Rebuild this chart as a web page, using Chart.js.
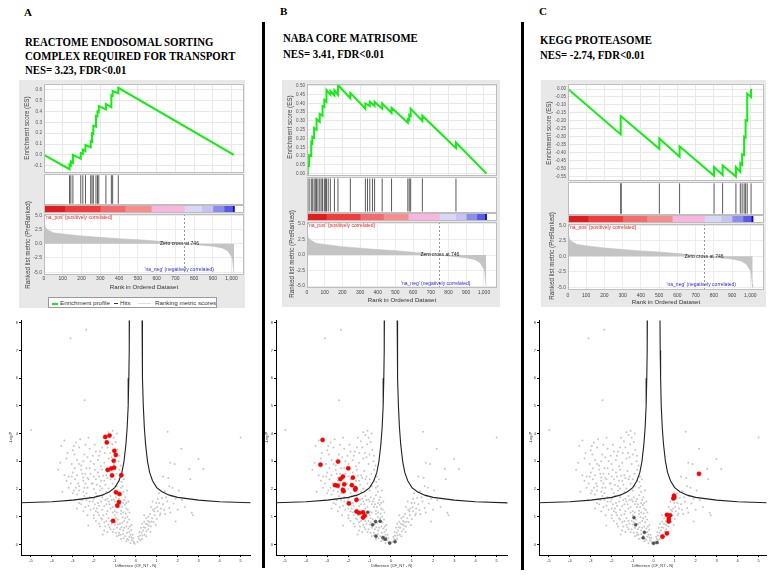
<!DOCTYPE html>
<html>
<head>
<meta charset="utf-8">
<script src="https://cdn.jsdelivr.net/npm/chart.js@4.4.1/dist/chart.umd.min.js"></script>
<style>
body { margin:0; width:778px; height:580px; position:relative; overflow:hidden; background:#fff; font-family:"Liberation Serif", serif; }
canvas { position:absolute; }
.letter { position:absolute; font-weight:bold; font-size:11px; line-height:11px; }
.ttl { position:absolute; font-weight:bold; font-size:13.5px; white-space:nowrap; transform:scaleX(0.8); transform-origin:0 0; }
.box { position:absolute; background:#e8e8e8; }
.sep { position:absolute; background:#000; width:3px; }
.ytl { position:absolute; font:6.3px "Liberation Sans"; color:#444; white-space:nowrap; transform:translate(-50%,-50%) rotate(-90deg); }
.leg { position:absolute; left:48px; top:297px; width:167px; height:9px; background:#fff; border:1px solid #999; font:6.2px "Liberation Sans"; color:#333; }
.leg span { position:absolute; top:1px; white-space:nowrap; }
.leg i { position:absolute; top:5px; height:1px; }
</style>
</head>
<body>
<div class="box" style="left:19px;top:80px;width:226px;height:228px"></div>
<div class="box" style="left:282px;top:80px;width:218px;height:227px"></div>
<div class="box" style="left:541px;top:80px;width:225px;height:227px"></div>

<div class="sep" style="left:262px;top:22px;height:546px"></div>
<div class="sep" style="left:521px;top:22px;height:548px"></div>

<div class="letter" style="left:24px;top:7px">A</div>
<div class="letter" style="left:280px;top:6px">B</div>
<div class="letter" style="left:539px;top:6px">C</div>

<div class="ttl" style="left:25px;top:34.5px;line-height:14.4px">REACTOME ENDOSOMAL SORTING<br>COMPLEX REQUIRED FOR TRANSPORT<br>NES= 3.23, FDR&lt;0.01</div>
<div class="ttl" style="left:283px;top:29.7px;line-height:16px">NABA CORE MATRISOME<br>NES= 3.41, FDR&lt;0.01</div>
<div class="ttl" style="left:540px;top:31.9px;line-height:15px">KEGG PROTEASOME<br>NES= -2.74, FDR&lt;0.01</div>

<div class="leg">
  <i style="left:3px;width:6px;background:#12ee12;height:1.5px"></i><span style="left:11px">Enrichment profile</span>
  <i style="left:65px;width:4px;background:#333"></i><span style="left:71px">Hits</span>
  <i style="left:89px;width:13px;background:#ddd"></i><span style="left:106px">Ranking metric scores</span>
</div>

<script>
// ranked list metric, shared by the three GSEA plots
const rankX = [0, 5, 20, 50, 100, 200, 300, 400, 500, 600, 700, 746, 800, 900, 950, 980, 1000, 1005, 1010, 1013];
const rankY = [3.3, 2.9, 2.4, 1.9, 1.7, 1.35, 1.1, 0.87, 0.7, 0.45, 0.18, 0, -0.17, -0.45, -0.75, -1.3, -2.3, -2.8, -4.5, -5.0];

// colour bar under the hits (rank boundaries and colours)
const barEnds = [0, 110, 300, 432, 572, 748, 840, 900, 960, 1005, 1015];
const barColors = ['#e21c1c', '#f23c3c', '#f56a6a', '#f78e8e', '#f8b6de', '#d8d8f6', '#c4c4f2', '#8c8cee', '#5a5ae6', '#0808c8'];

// enrichment profiles
const esA_x = [0, 136, 136, 143, 143, 154, 154, 196, 196, 207, 207, 221, 221, 249, 249, 256, 256, 263, 263, 277, 277, 285, 285, 292, 292, 330, 330, 359, 359, 366, 366, 396, 396, 1012];
const esA_y = [0, -0.133, -0.09, -0.1, -0.06, -0.075, 0.0, -0.035, 0.018, 0.01, 0.048, 0.035, 0.09, 0.07, 0.125, 0.12, 0.2, 0.195, 0.27, 0.26, 0.36, 0.355, 0.4, 0.395, 0.45, 0.42, 0.47, 0.44, 0.55, 0.545, 0.59, 0.57, 0.62, 0.0];
const hitsA = [136, 143, 154, 196, 207, 221, 249, 256, 263, 277, 285, 292, 330, 359, 366, 396];

const esB_x = [0, 4, 4, 12, 12, 24, 24, 30, 30, 40, 40, 54, 54, 72, 72, 88, 88, 98, 98, 110, 110, 132, 132, 155, 155, 175, 175, 245, 245, 330, 330, 355, 355, 382, 382, 425, 425, 478, 478, 570, 570, 578, 578, 586, 586, 652, 652, 842, 842, 1015];
const esB_y = [0, -0.003, 0.05, 0.045, 0.105, 0.1, 0.18, 0.175, 0.21, 0.205, 0.26, 0.25, 0.31, 0.295, 0.34, 0.33, 0.385, 0.38, 0.42, 0.41, 0.475, 0.45, 0.47, 0.445, 0.475, 0.45, 0.505, 0.43, 0.46, 0.37, 0.4, 0.385, 0.41, 0.385, 0.41, 0.37, 0.4, 0.345, 0.375, 0.29, 0.31, 0.305, 0.335, 0.33, 0.37, 0.3, 0.33, 0.145, 0.177, 0.0];
const hitsB = [4, 12, 24, 30, 40, 47, 54, 62, 72, 80, 88, 98, 104, 110, 120, 132, 155, 175, 245, 330, 342, 355, 370, 382, 425, 478, 570, 578, 586, 652, 842];

const esC_x = [0, 289, 289, 501, 501, 612, 612, 801, 801, 848, 848, 921, 921, 945, 945, 955, 955, 966, 966, 974, 974, 983, 983, 1004, 1004];
const esC_y = [0, -0.285, -0.17, -0.375, -0.31, -0.425, -0.36, -0.545, -0.49, -0.54, -0.48, -0.55, -0.49, -0.52, -0.465, -0.475, -0.41, -0.415, -0.3, -0.305, -0.196, -0.2, -0.03, -0.05, 0.0];
const hitsC = [289, 292, 501, 612, 801, 848, 921, 945, 955, 966, 974, 983, 1004];

// tick labels
const rankTicks = [0, 100, 200, 300, 400, 500, 600, 700, 800, 900, 1000];
const esTicksA = [-0.1, 0, 0.1, 0.2, 0.3, 0.4, 0.5, 0.6];
const esTicksB = [0, 0.05, 0.1, 0.15, 0.2, 0.25, 0.3, 0.35, 0.4, 0.45, 0.5];
const esTicksC = [-0.55, -0.5, -0.45, -0.4, -0.35, -0.3, -0.25, -0.2, -0.15, -0.1, -0.05, 0];
const metricTicks = [-5, -2.5, 0, 2.5, 5];
const volXTicks = [-5, -4, -3, -2, -1, 0, 1, 2, 3, 4, 5];
const volYTicks = [0, 1, 2, 3, 4, 5, 6, 7, 8];

// volcano plots: background proteins (same in the three plots)
const grayPts = [
  [-2.36,7.75],[-3.11,7.44],[-2.44,5.2],[-4.98,4.13],[1.52,4.07],[5.0,3.86],[-3.55,3.55],[2.17,3.45],[2.99,3.08],[3.22,2.72],
  [2.55,2.72],[1.65,2.95],[1.85,2.9],[1.3,2.45],[2.6,2.35],[1.6,2.1],[2.67,1.14],[2.72,1.05],[1.9,0.83],[-3.7,2.7],[-3.4,3.75],
  [-2.26,0.68],[-1.57,0.36],
  [-1.3,4.05],[-1.2,3.95],[-1.05,3.85],[-1.42,3.72],[-2.65,3.8],[-2.85,3.68],[-2.4,3.6],[-1.12,3.62],[-0.95,3.7],[-3.0,3.4],
  [-2.7,3.5],[-2.2,3.45],[-1.9,3.35],[-1.6,3.5],[-1.22,3.3],[-0.88,3.42],[-2.92,3.25],[-1.75,3.2],[-1.48,3.3],[-1.0,3.25],
  [-3.3,3.1],[-3.6,2.95],[-2.8,3.05],[-2.5,3.0],[-2.3,3.15],[-2.0,2.9],[-1.8,3.05],[-1.5,2.95],[-1.3,3.1],[-1.05,2.9],
  [-0.82,3.0],[-0.72,2.85],[-2.6,2.85],[-3.05,2.9],[-2.15,3.0],[-1.65,2.82],
  [-3.0,2.6],[-2.8,2.5],[-2.6,2.7],[-2.4,2.55],[-2.2,2.75],[-2.0,2.45],[-1.8,2.6],[-1.6,2.7],[-1.4,2.5],[-1.25,2.65],
  [-0.92,2.55],[-0.78,2.7],[-0.66,2.45],[-3.2,2.45],[-2.5,2.42],[-1.95,2.7],[-1.55,2.48],[-2.9,2.75],[-2.3,2.4],
  [-3.1,2.2],[-2.9,2.35],[-2.7,2.1],[-2.5,2.3],[-2.3,2.05],[-2.1,2.2],[-1.9,2.35],[-1.7,2.1],[-1.5,2.3],[-1.3,2.02],
  [-1.1,2.2],[-0.8,2.3],[-0.62,2.1],[-0.56,2.35],[-2.0,2.0],[-1.6,2.02],[-3.3,2.3],[-3.5,1.9],[-2.4,2.2],[-1.2,2.35],
  [-2.8,1.8],[-2.5,1.9],[-2.2,1.7],[-1.9,1.85],[-1.6,1.7],[-1.4,1.9],[-1.2,1.75],[-1.0,1.95],[-0.8,1.65],[-0.6,1.9],
  [-0.5,1.7],[-0.42,1.95],[-2.0,1.65],[-1.7,1.95],[-3.1,1.6],[-2.65,1.62],[-2.35,1.85],[-1.05,1.62],[-0.7,1.78],[-1.35,1.65],
  [-2.6,1.45],[-2.4,1.35],[-2.2,1.55],[-2.0,1.3],[-1.8,1.5],[-1.6,1.25],[-1.4,1.45],[-1.2,1.3],[-1.0,1.55],[-0.8,1.35],
  [-0.6,1.5],[-0.45,1.3],[-0.35,1.55],[-1.9,1.2],[-1.3,1.55],[-0.7,1.22],[-2.8,1.3],[-0.9,1.45],[-1.5,1.38],[-0.52,1.42],
  [-2.3,1.05],[-2.0,0.95],[-1.8,1.15],[-1.6,0.9],[-1.4,1.1],[-1.2,0.85],[-1.0,1.05],[-0.85,0.9],[-0.7,1.1],[-0.55,0.85],
  [-0.4,1.0],[-0.3,1.15],[-1.5,0.8],[-1.1,1.15],[-0.95,0.8],[-0.62,0.98],[-1.3,0.95],[-0.48,1.12],
  [-1.7,0.65],[-1.5,0.5],[-1.3,0.7],[-1.1,0.45],[-0.9,0.6],[-0.75,0.75],[-0.6,0.5],[-0.45,0.65],[-0.3,0.45],[-0.2,0.7],
  [-1.2,0.55],[-0.8,0.42],[-1.0,0.72],[-0.35,0.58],[-0.68,0.62],
  [-0.9,0.3],[-0.7,0.2],[-0.5,0.3],[-0.35,0.15],[-0.2,0.25],[-0.1,0.1],[-0.6,0.38],[-0.25,0.05],[-0.45,0.12],[-0.15,0.35],
  [-0.05,0.03],[-0.8,0.33],
  [-1.85,1.75],[-1.75,1.4],[-1.65,1.55],[-1.55,1.8],[-1.45,1.6],[-1.35,1.2],[-1.25,1.45],[-1.15,1.6],[-1.1,1.35],[-1.0,1.2],
  [-0.95,1.7],[-0.9,1.15],[-0.85,1.55],[-0.75,1.45],[-0.65,1.35],[-0.6,1.15],[-0.55,1.6],[-0.5,0.95],[-0.45,1.5],[-0.4,0.8],
  [-0.38,1.25],[-0.32,0.9],[-0.28,0.65],[-0.25,0.35],[-0.22,0.52],[-0.18,0.15],[-0.12,0.22],[-0.08,0.05],[-0.3,0.28],[-0.42,0.42],
  [-0.55,0.6],[-0.65,0.78],[-0.75,0.55],[-0.85,0.72],[-0.95,0.95],[-1.05,0.85],[-1.15,0.75],[-1.25,0.62],[-1.4,0.85],[-1.55,1.05],
  [-1.65,0.95],[-1.75,1.05],[-1.85,1.3],[-1.95,1.45],[-2.05,1.55],[-2.15,1.25],[-2.25,1.4],[-2.35,1.6],[-2.45,1.75],[-2.55,1.6],
  [-2.7,1.95],[-2.75,2.2],[-2.85,2.05],[-2.95,1.95],[-3.05,2.45],[-2.45,2.05],[-2.25,2.35],[-2.05,2.2],[-1.85,2.15],[-1.65,2.3],
  [-1.45,2.15],[-1.35,2.4],[-1.15,2.45],[-1.0,2.35],[-0.9,2.1],[-0.7,2.05],[-0.68,2.25],[-1.75,2.45],[-2.15,2.55],[-2.35,2.75],
  [-2.55,2.55],[-2.7,2.9],[-2.45,3.25],[-2.05,3.2],[-1.7,3.35],[-1.35,3.5],[-1.15,3.15],[-0.8,3.2],[-1.95,3.6],[-2.25,3.85],
  [-1.55,3.85],[-0.9,4.0],[-1.1,4.1],[-2.0,1.05],[-1.9,0.85],[-1.75,0.75],[-1.45,0.65],[-1.35,0.45],[-1.05,0.55],[-0.95,0.42],
  [-0.72,0.35],[-0.58,0.22],[-0.4,0.2],[-2.5,1.2],[-2.7,1.5],[-3.0,1.85],[-3.2,2.05],[-3.4,2.5],[-2.95,3.55],[-3.25,3.3],
  [0.08,0.1],[0.15,0.2],[0.2,0.32],[0.3,0.2],[0.28,0.42],[0.35,0.5],[0.42,0.35],[0.45,0.6],[0.52,0.48],[0.55,0.72],
  [0.6,0.55],[0.65,0.8],[0.72,0.65],[0.78,0.95],[0.85,0.8],[0.9,1.05],[1.0,0.92],[1.05,1.2],[1.15,1.05],[1.2,1.3],
  [0.88,1.2],[0.6,1.0],[1.3,1.45],[1.4,1.1],[1.6,1.32],[1.5,1.55],[1.25,1.68],[0.98,1.5],[0.72,1.35],[1.8,1.48],
  [2.0,1.25],[1.1,1.85],[1.38,1.92],[0.4,0.82],[0.25,0.6],[0.5,0.95],[1.7,1.75],[2.2,1.6],[1.55,2.4],
  [0.12,0.28],[0.18,0.45],[0.22,0.15],[0.32,0.32],[0.38,0.62],[0.48,0.75],[0.58,0.85],[0.62,0.68],[0.68,1.1],[0.75,0.82],
  [0.82,1.25],[0.92,1.3],[1.02,1.35],[1.12,1.5],[1.18,1.12],[1.35,1.25],[1.45,1.7],[0.95,0.7],[0.8,1.55],[1.05,1.65],
  [0.7,0.45],[0.5,0.3],[1.65,1.15],[1.9,1.65],[2.05,1.95],[1.75,2.05],[2.35,1.35],[0.4,1.05],[0.3,0.75]
];
// gene-set members (red) and other members (dark grey)
const redA = [[-1.45,3.88],[-1.25,3.93],[-1.38,3.68],[-1.02,3.38],[-0.95,3.23],[-1.05,3.02],[-1.03,2.77],[-1.17,2.74],
  [-1.34,2.69],[-1.13,2.49],[-0.69,2.5],[-0.94,1.88],[-0.78,1.82],[-0.8,1.53],[-0.88,1.4],[-1.08,0.85]];
const redB = [[-3.22,3.77],[-3.32,2.88],[-2.49,2.99],[-2.01,2.75],[-2.26,2.45],[-2.38,2.36],[-1.79,2.41],[-2.63,2.14],
  [-2.51,2.12],[-2.2,2.17],[-1.84,2.14],[-1.67,2.03],[-1.68,1.98],[-2.26,1.97],[-2.23,1.92],[-1.62,1.61],[-1.98,1.48],
  [-1.62,1.19],[-1.5,1.14],[-1.31,1.16],[-1.23,1.04],[-1.31,0.97]];
const darkB = [[-1.09,1.16],[-0.72,0.83],[-0.5,0.84],[-0.86,0.71],[-0.7,0.3],[-0.37,0.25],[-0.26,0.19],[0.2,0.1],[-0.05,0.05]];
const redC = [[2.16,2.55],[0.97,1.76],[0.94,1.66],[0.98,1.7],[0.63,1.07],[0.78,1.05],[0.72,0.92],[0.72,0.83],[0.63,0.4],[0.42,0.28]];
const darkC = [[-0.94,0.97],[-0.86,0.71],[-0.44,0.44],[-0.5,0.24],[0.0,0.04],[0.16,0.07]];
// significance curve, right branch (left branch is its mirror)
const thrX = [0.3, 0.31, 0.33, 0.36, 0.41, 0.47, 0.56, 0.66, 0.8, 1.0, 1.25, 1.6, 2.0, 3.0, 4.0, 5.6];
const thrY = [8.2, 7.0, 6.0, 5.0, 4.2, 3.6, 3.0, 2.6, 2.3, 2.05, 1.9, 1.78, 1.7, 1.6, 1.54, 1.5];

Chart.defaults.responsive = false;
Chart.defaults.animation = false;
Chart.defaults.devicePixelRatio = 1;
Chart.defaults.font.family = 'Liberation Sans';
Chart.defaults.plugins.legend.display = false;
Chart.defaults.plugins.tooltip.enabled = false;

// white plot area with a light frame
Chart.register({
  id: 'frame',
  beforeDraw(ch, a, o) {
    if (!o.on) return;
    const c = ch.chartArea, g = ch.ctx;
    g.save(); g.fillStyle = '#fff'; g.fillRect(c.left, c.top, c.width, c.height); g.restore();
  },
  afterDraw(ch, a, o) {
    if (!o.on) return;
    const c = ch.chartArea, g = ch.ctx;
    g.save(); g.strokeStyle = '#bdbdbd'; g.lineWidth = 1;
    g.strokeRect(Math.round(c.left) + 0.5, Math.round(c.top) + 0.5, Math.round(c.width) - 1, Math.round(c.height) - 1);
    g.restore();
  }
});

// texts and zero-cross line in the ranked list plot
Chart.register({
  id: 'notes',
  afterDatasetsDraw(ch, a, o) {
    if (!o.items) return;
    const g = ch.ctx, sx = ch.scales.x, sy = ch.scales.y, c = ch.chartArea;
    g.save();
    const px = Math.round(sx.getPixelForValue(o.cross)) + 0.5;
    g.strokeStyle = '#999'; g.lineWidth = 1; g.setLineDash([2, 2]);
    g.beginPath(); g.moveTo(px, c.top); g.lineTo(px, c.bottom); g.stroke();
    g.setLineDash([]);
    g.font = '5px "Liberation Sans"'; g.textBaseline = 'middle';
    for (const it of o.items) {
      g.fillStyle = it.color; g.textAlign = it.align;
      g.fillText(it.text, sx.getPixelForValue(it.x), sy.getPixelForValue(it.y));
    }
    g.restore();
  }
});

function mk(x, y, w, h, cfg) {
  const c = document.createElement('canvas');
  c.width = w; c.height = h;
  c.style.left = x + 'px'; c.style.top = y + 'px';
  document.body.appendChild(c);
  return new Chart(c, cfg);
}

const xy = (xs, ys) => xs.map((v, i) => ({x: v, y: ys[i]}));
const setTicks = arr => s => { s.ticks = arr.map(v => ({value: v})); };
const tickFont = {size: 5, family: 'Liberation Sans'};

function gsea(p, esX, esY, hits, esTicks, dec) {
  const right = p.bx + p.bw - p.pr;
  const xScale = {type: 'linear', min: p.xmin, max: p.xmax, afterBuildTicks: setTicks(rankTicks)};

  // enrichment score
  mk(p.bx, p.es[0] - 4, p.bw, p.es[1] - p.es[0] + 8, {
    type: 'line',
    data: {datasets: [{data: xy(esX, esY), borderColor: '#12ee12', borderWidth: 2, pointRadius: 0, tension: 0}]},
    options: {
      layout: {padding: {top: 4, bottom: 4, left: 0, right: right}},
      plugins: {frame: {on: true}},
      scales: {
        x: Object.assign({}, xScale, {afterFit: s => { s.height = 0; }, ticks: {display: false},
          grid: {color: '#e8e8e8', drawTicks: false}, border: {display: false}}),
        y: {min: p.es[2], max: p.es[3], afterBuildTicks: setTicks(esTicks), afterFit: s => { s.width = p.pl - p.bx; },
          ticks: {font: {size: 4.6}, color: '#555', padding: 2, autoSkip: false, callback: v => v.toFixed(dec)},
          grid: {color: '#e8e8e8', drawTicks: false}, border: {display: false}}
      }
    }
  });

  // hits
  const hitPts = [];
  hits.forEach(r => hitPts.push({x: r, y: 0.04}, {x: r, y: 0.96}, {x: r, y: null}));
  mk(p.bx, p.hits[0], p.bw, p.hits[1] - p.hits[0], {
    type: 'line',
    data: {datasets: [{data: hitPts, borderColor: '#5a5a5a', borderWidth: 1, pointRadius: 0, spanGaps: false}]},
    options: {
      layout: {padding: {left: p.pl - p.bx, right: right}},
      plugins: {frame: {on: true}},
      scales: {x: Object.assign({}, xScale, {display: false}), y: {display: false, min: 0, max: 1}}
    }
  });

  // colour bar
  mk(p.bx, p.bar[0], p.bw, p.bar[1] - p.bar[0], {
    type: 'bar',
    data: {labels: [''], datasets: barColors.map((c, i) => ({data: [[barEnds[i], barEnds[i + 1]]], backgroundColor: c,
      grouped: false, barPercentage: 1, categoryPercentage: 1}))},
    options: {
      indexAxis: 'y',
      layout: {padding: {left: p.pl - p.bx, right: right}},
      plugins: {frame: {on: true}},
      scales: {x: {type: 'linear', display: false, min: p.xmin, max: p.xmax}, y: {display: false}}
    }
  });

  // ranked list metric
  mk(p.bx, p.rk[0] - 4, p.bw, p.rk[1] - p.rk[0] + 4 + p.axH, {
    type: 'line',
    data: {datasets: [{data: xy(rankX, rankY), fill: 'origin', backgroundColor: '#c4c4c4', borderColor: '#bdbdbd',
      borderWidth: 0.5, pointRadius: 0, tension: 0}]},
    options: {
      layout: {padding: {top: 4, bottom: 0, left: 0, right: right}},
      plugins: {
        frame: {on: true},
        notes: {cross: 746, items: [
          {text: "'na_pos' (positively correlated)", x: 6, y: p.posY, color: '#e02828', align: 'left'},
          {text: 'Zero cross at 746', x: p.zcX, y: 0, color: '#222', align: 'center'},
          {text: "'na_neg' (negatively correlated)", x: p.negX, y: -4.6, color: '#2b2bdc', align: 'center'}
        ]}
      },
      scales: {
        x: Object.assign({}, xScale, {afterFit: s => { s.height = p.axH; },
          ticks: {font: tickFont, color: '#444', padding: p.tpad, maxRotation: 0, autoSkip: false,
            callback: v => v.toLocaleString('en-US')},
          grid: {color: '#ececec', drawTicks: false}, border: {display: false},
          title: {display: true, text: 'Rank in Ordered Dataset', font: {size: 6.2}, color: '#333', padding: 0}}),
        y: {min: p.rk[2], max: p.rk[3], afterBuildTicks: setTicks(metricTicks), afterFit: s => { s.width = p.pl - p.bx; },
          ticks: {font: tickFont, color: '#555', padding: 2, autoSkip: false, callback: v => v.toFixed(1)},
          grid: {color: '#ececec', drawTicks: false}, border: {display: false}}
      }
    }
  });
}

const layoutA = {bx: 19, bw: 226, pl: 44, pr: 244, xmin: 0, xmax: 1066, es: [83, 174, -0.17, 0.657], hits: [174, 205],
  bar: [205, 213], rk: [213, 275, -5.5, 5.2], tpad: 1, axH: 16, posY: 4.6, zcX: 722, negX: 721};
const layoutB = {bx: 282, bw: 218, pl: 307, pr: 497, xmin: 0, xmax: 1074, es: [83, 177, -0.015, 0.512], hits: [177, 213],
  bar: [213, 221], rk: [221, 288, -5.32, 5.32], tpad: 2, axH: 16, posY: 4.8, zcX: 751, negX: 728};
const layoutC = {bx: 541, bw: 225, pl: 568, pr: 764, xmin: 0, xmax: 1075, es: [83, 182, -0.579, 0.033], hits: [182, 215],
  bar: [215, 223], rk: [223, 290, -5.43, 5.21], tpad: 3, axH: 16, posY: 4.6, zcX: 746, negX: 731};

gsea(layoutA, esA_x, esA_y, hitsA, esTicksA, 1);
gsea(layoutB, esB_x, esB_y, hitsB, esTicksB, 2);
gsea(layoutC, esC_x, esC_y, hitsC, esTicksC, 2);

function volcano(left, yw, plotR, xmin, xmax, red, dark) {
  const pts = a => a.map(q => ({x: q[0], y: q[1]}));
  const curveR = xy(thrX, thrY);
  const curveL = xy(thrX.map(v => -v), thrY);
  const axis = {grid: {drawOnChartArea: false, color: '#000', tickLength: 2}, border: {color: '#000', width: 1}};
  mk(left, 316, plotR + 2 - left, 252, {
    type: 'scatter',
    data: {datasets: [
      {data: pts(red), backgroundColor: '#ff0000', borderColor: '#e00000', borderWidth: 0.5, pointRadius: 2.1},
      {data: pts(dark), backgroundColor: '#555', borderColor: '#444', borderWidth: 0.5, pointRadius: 1.5},
      {data: curveR, showLine: true, borderColor: '#222', borderWidth: 1.1, pointRadius: 0},
      {data: curveL, showLine: true, borderColor: '#222', borderWidth: 1.1, pointRadius: 0},
      {data: pts(grayPts), backgroundColor: '#c6c6c6', borderWidth: 0, pointRadius: 1}
    ]},
    options: {
      layout: {padding: {top: 4, right: 2, left: 0, bottom: 0}},
      scales: {
        x: Object.assign({type: 'linear', min: xmin, max: xmax, afterBuildTicks: setTicks(volXTicks), afterFit: s => { s.height = 13; },
          ticks: {font: {size: 4}, color: '#333', padding: 1, maxRotation: 0, autoSkip: false},
          title: {display: true, text: 'Difference (CF_NT - N)', font: {size: 4}, color: '#333', padding: 0}}, axis),
        y: Object.assign({min: -0.38, max: 8.08, afterBuildTicks: setTicks(volYTicks), afterFit: s => { s.width = yw; },
          ticks: {font: {size: 4}, color: '#333', padding: 1, autoSkip: false},
          title: {display: true, text: '-Log P', font: {size: 4}, color: '#333', padding: 0}}, axis)
      }
    }
  });
}

volcano(8, 13, 253, -5.47, 5.47, redA, []);
volcano(264, 12, 510, -5.42, 5.51, redB, darkB);
volcano(528, 11, 769, -5.47, 5.38, redC, darkC);
</script>

<div class="ytl" style="left:26px;top:128px">Enrichment score (ES)</div>
<div class="ytl" style="left:27px;top:245px">Ranked list metric (PreRanked)</div>
<div class="ytl" style="left:289px;top:127px">Enrichment score (ES)</div>
<div class="ytl" style="left:291px;top:254px">Ranked list metric (PreRanked)</div>
<div class="ytl" style="left:548px;top:133px">Enrichment score (ES)</div>
<div class="ytl" style="left:551px;top:256px">Ranked list metric (PreRanked)</div>
</body>
</html>
